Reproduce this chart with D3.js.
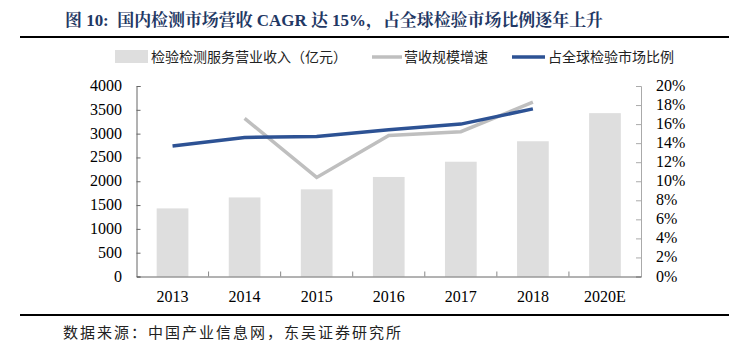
<!DOCTYPE html>
<html><head><meta charset="utf-8">
<script src="https://cdn.jsdelivr.net/npm/d3@7"></script>
<style>body{margin:0;background:#fff}svg{display:block}</style>
</head><body>
<svg id="c" width="753" height="354"></svg>
<script>
const categories = ["2013","2014","2015","2016","2017","2018","2020E"];
const revenue = [1430, 1660, 1830, 2090, 2410, 2840, 3430];
const growth = [null, 16.6, 10.4, 14.8, 15.2, 18.3, null];
const share = [13.7, 14.6, 14.7, 15.4, 16.0, 17.6, null];
const leftTicks = [0,500,1000,1500,2000,2500,3000,3500,4000];
const rightTicks = [0,2,4,6,8,10,12,14,16,18,20];
const titleText = "图 10:  国内检测市场营收 CAGR 达 15%，占全球检验市场比例逐年上升";
const sourceText = "数据来源：中国产业信息网，东吴证券研究所";
const legendLabels = ["检验检测服务营业收入（亿元）","营收规模增速","占全球检验市场比例"];

const svg = d3.select("#c");
const L = 136.5, R = 641, T = 86, B = 276.5;
const x = d3.scaleBand().domain(categories).range([L, R]).padding(0);
const yL = d3.scaleLinear().domain([0, 4000]).range([B, T]);
const yR = d3.scaleLinear().domain([0, 20]).range([B, T]);
const cx = c => x(c) + x.bandwidth()/2;
const serif = "'Liberation Serif','Times New Roman',serif";
const cjk = "'Noto Sans CJK SC','Noto Sans',sans-serif";

// title
svg.append("text").attr("x", 65).attr("y", 26)
  .attr("font-family", "'Liberation Serif','Noto Serif CJK SC','Noto Sans CJK SC',serif")
  .attr("font-weight", "bold").attr("font-size", 17).attr("fill", "#1F3864")
  .attr("textLength", 538).attr("lengthAdjust", "spacingAndGlyphs")
  .style("white-space","pre")
  .text(titleText);
svg.append("line").attr("x1", 20).attr("x2", 729).attr("y1", 37).attr("y2", 37)
  .attr("stroke", "#000").attr("stroke-width", 2);

// legend
const lg = svg.append("g");
lg.append("rect").attr("x", 115).attr("y", 50).attr("width", 33).attr("height", 13).attr("fill", "#DEDEDE");
lg.append("text").attr("x", 151).attr("y", 61.5).attr("font-family", cjk).attr("font-size", 14).attr("fill","#222").text(legendLabels[0]);
lg.append("line").attr("x1", 372).attr("x2", 402).attr("y1", 57).attr("y2", 57).attr("stroke", "#BFBFBF").attr("stroke-width", 3.5);
lg.append("text").attr("x", 404).attr("y", 61.5).attr("font-family", cjk).attr("font-size", 14).attr("fill","#222").text(legendLabels[1]);
lg.append("line").attr("x1", 512).attr("x2", 545).attr("y1", 57).attr("y2", 57).attr("stroke", "#2D5294").attr("stroke-width", 3.5);
lg.append("text").attr("x", 548).attr("y", 61.5).attr("font-family", cjk).attr("font-size", 14).attr("fill","#222").text(legendLabels[2]);

// bars
const bw = x.bandwidth() * 0.44;
svg.append("g").selectAll("rect").data(categories).join("rect")
  .attr("x", (c) => cx(c) - bw/2).attr("width", bw)
  .attr("y", (c,i) => yL(revenue[i])).attr("height", (c,i) => B - yL(revenue[i]))
  .attr("fill", "#DEDEDE");

// axes
const axL = svg.append("g").attr("transform", `translate(${L},0)`)
  .call(d3.axisRight(yL).tickValues(leftTicks).tickSize(4).tickFormat(""));
axL.selectAll("line,path").attr("stroke", "#666");
const labL = svg.append("g");
labL.selectAll("text").data(leftTicks).join("text")
  .attr("x", 122).attr("y", d => yL(d) + 5).attr("text-anchor", "end")
  .attr("font-family", serif).attr("font-size", 16).attr("fill", "#000").text(d => d);

const axR = svg.append("g").attr("transform", `translate(${R},0)`)
  .call(d3.axisLeft(yR).tickValues(rightTicks).tickSize(5).tickFormat(""));
axR.selectAll("line,path").attr("stroke", "#aaa");
svg.append("g").selectAll("text").data(rightTicks).join("text")
  .attr("x", 656).attr("y", d => yR(d) + 5).attr("text-anchor", "start")
  .attr("font-family", serif).attr("font-size", 16).attr("fill", "#000").text(d => d + "%");

// x axis
const axX = svg.append("g").attr("transform", `translate(0,${B})`)
  .call(d3.axisBottom(x).tickSize(0).tickFormat(""));
axX.select("path").attr("stroke", "#666");
svg.append("g").selectAll("line").data(categories.slice(1)).join("line")
  .attr("x1", c => x(c)).attr("x2", c => x(c)).attr("y1", B).attr("y2", B - 5)
  .attr("stroke", "#888");
svg.append("g").selectAll("text").data(categories).join("text")
  .attr("x", c => cx(c)).attr("y", 302).attr("text-anchor", "middle")
  .attr("font-family", serif).attr("font-size", 16).attr("fill", "#000").text(c => c);

// lines
const lineGen = (arr) => d3.line().defined((c,i) => arr[i] != null)
  .x(c => cx(c)).y((c,i) => yR(arr[i]));
svg.append("path").datum(categories).attr("d", lineGen(growth))
  .attr("fill", "none").attr("stroke", "#BFBFBF").attr("stroke-width", 3.5);
svg.append("path").datum(categories).attr("d", lineGen(share))
  .attr("fill", "none").attr("stroke", "#2D5294").attr("stroke-width", 3.5);

// bottom line and source
svg.append("line").attr("x1", 20).attr("x2", 729).attr("y1", 315).attr("y2", 315)
  .attr("stroke", "#000").attr("stroke-width", 2);
svg.append("text").attr("x", 63).attr("y", 338).attr("font-family", cjk)
  .attr("font-size", 15).attr("letter-spacing", 2).attr("fill", "#222").text(sourceText);
</script>
</body></html>
